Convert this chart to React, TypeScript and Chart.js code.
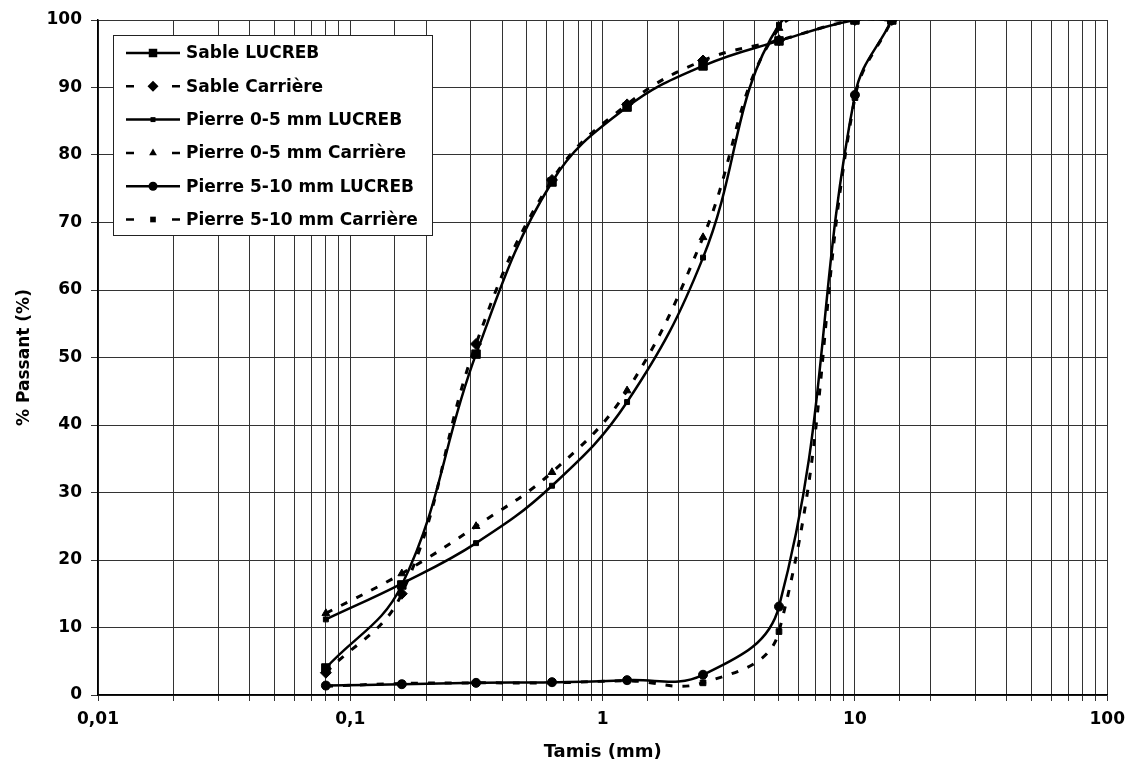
import React, { useEffect, useRef } from 'react';
import { Chart, registerables } from 'chart.js';

Chart.register(...registerables);

// Sieve openings (mm)
const sieves = [0.08, 0.16, 0.315, 0.63, 1.25, 2.5, 5, 10, 14];

// % passing per series
const sableLucreb = [4, 16.3, 50.5, 76, 87.1, 93.2, 96.9, 100, 100];
const sableCarriere = [3.3, 15, 52, 76.3, 87.5, 94, 97, 100, 100];
const pierre05Lucreb = [11.2, 16.5, 22.5, 31, 43.4, 64.8, 99.3, 100];
const pierre05Carriere = [12.1, 18, 25, 33, 45.1, 67.8, 98.8, 100];
const pierre510Lucreb = [1.4, 1.6, 1.8, 1.9, 2.2, 3.0, 13.1, 88.9, 100];
const pierre510Carriere = [1.3, 1.7, 1.8, 1.8, 2.1, 1.8, 9.4, 88.5, 100];

const seriesNames = [
  'Sable LUCREB',
  'Sable Carrière',
  'Pierre 0-5 mm LUCREB',
  'Pierre 0-5 mm Carrière',
  'Pierre 5-10 mm LUCREB',
  'Pierre 5-10 mm Carrière',
];

const xTickLabels: Record<string, string> = {
  '-2': '0,01',
  '-1': '0,1',
  '0': '1',
  '1': '10',
  '2': '100',
};

const xTitle = 'Tamis (mm)';
const yTitle = '% Passant (%)';

const FONT = '"DejaVu Sans", "Liberation Sans", Arial, sans-serif';

type SeriesStyle = { dashed: boolean; point: string; radius: number };
const styles: SeriesStyle[] = [
  { dashed: false, point: 'rect', radius: 6 },
  { dashed: true, point: 'rectRot', radius: 5.5 },
  { dashed: false, point: 'rect', radius: 3.5 },
  { dashed: true, point: 'triangle', radius: 4.5 },
  { dashed: false, point: 'circle', radius: 4.5 },
  { dashed: true, point: 'rect', radius: 4 },
];

function drawMarker(ctx: CanvasRenderingContext2D, style: string, x: number, y: number, r: number) {
  ctx.beginPath();
  if (style === 'rect') {
    const s = r * Math.SQRT1_2;
    ctx.rect(x - s, y - s, 2 * s, 2 * s);
  } else if (style === 'rectRot') {
    ctx.moveTo(x - r, y);
    ctx.lineTo(x, y - r);
    ctx.lineTo(x + r, y);
    ctx.lineTo(x, y + r);
    ctx.closePath();
  } else if (style === 'triangle') {
    let a = 0;
    ctx.moveTo(x + Math.sin(a) * r, y - Math.cos(a) * r);
    a += (2 * Math.PI) / 3;
    ctx.lineTo(x + Math.sin(a) * r, y - Math.cos(a) * r);
    a += (2 * Math.PI) / 3;
    ctx.lineTo(x + Math.sin(a) * r, y - Math.cos(a) * r);
    ctx.closePath();
  } else {
    ctx.arc(x, y, r, 0, Math.PI * 2);
  }
  ctx.fill();
}

const overlayPlugin = {
  id: 'overlay',
  afterDraw(chart: any) {
    const ctx: CanvasRenderingContext2D = chart.ctx;
    const ca = chart.chartArea;
    ctx.save();
    ctx.fillStyle = '#000';
    ctx.textAlign = 'center';
    ctx.textBaseline = 'middle';
    ctx.font = `bold 18px ${FONT}`;
    ctx.fillText(xTitle, (ca.left + ca.right) / 2, 752);
    ctx.save();
    ctx.font = `bold 17px ${FONT}`;
    ctx.translate(25, (ca.top + ca.bottom) / 2);
    ctx.rotate(-Math.PI / 2);
    ctx.fillText(yTitle, 0, 0);
    ctx.restore();

    // Legend box
    const lx = 113.5, ly = 35.5, lw = 319, lh = 200;
    ctx.fillStyle = '#fff';
    ctx.fillRect(lx, ly, lw, lh);
    ctx.strokeStyle = '#222';
    ctx.lineWidth = 1;
    ctx.setLineDash([]);
    ctx.strokeRect(lx, ly, lw, lh);

    ctx.font = `bold 17px ${FONT}`;
    ctx.textAlign = 'left';
    ctx.textBaseline = 'middle';
    seriesNames.forEach((name, i) => {
      const y = 53 + i * 33.3;
      const st = styles[i];
      ctx.strokeStyle = '#000';
      ctx.fillStyle = '#000';
      ctx.lineWidth = 2.5;
      ctx.setLineDash([]);
      ctx.beginPath();
      if (st.dashed) {
        ctx.moveTo(126, y);
        ctx.lineTo(134, y);
        ctx.moveTo(172, y);
        ctx.lineTo(180, y);
      } else {
        ctx.moveTo(126, y);
        ctx.lineTo(180, y);
      }
      ctx.stroke();
      drawMarker(ctx, st.point, 153, y, st.radius);
      ctx.fillText(name, 186, y + 1);
    });
    ctx.restore();
  },
};

const allSeries = [
  sableLucreb,
  sableCarriere,
  pierre05Lucreb,
  pierre05Carriere,
  pierre510Lucreb,
  pierre510Carriere,
];

export default function App() {
  const ref = useRef<HTMLCanvasElement | null>(null);

  useEffect(() => {
    if (!ref.current) return;
    const datasets = allSeries.map((vals, i) => ({
      label: seriesNames[i],
      data: vals.map((v, j) => ({ x: sieves[j], y: v })),
      borderColor: '#000',
      backgroundColor: '#000',
      pointBackgroundColor: '#000',
      pointBorderColor: '#000',
      pointBorderWidth: 1,
      borderWidth: styles[i].dashed ? 3 : 2.5,
      borderDash: styles[i].dashed ? [7, 10] : [],
      pointStyle: styles[i].point as any,
      pointRadius: styles[i].radius,
      tension: 0.4,
      fill: false,
    }));

    const chart = new Chart(ref.current, {
      type: 'line',
      data: { datasets },
      plugins: [overlayPlugin],
      options: {
        animation: false,
        responsive: false,
        events: [],
        layout: { padding: { top: 20, right: 24, left: 0, bottom: 0 } },
        elements: { line: { capBezierPoints: false } },
        plugins: {
          legend: { display: false },
          tooltip: { enabled: false },
        },
        scales: {
          x: {
            type: 'logarithmic',
            min: 0.01,
            max: 100,
            afterFit: (s: any) => {
              s.height = 71;
            },
            border: { color: '#000', width: 1.5 },
            grid: { color: '#333', lineWidth: 1, tickLength: 6, drawTicks: true },
            ticks: {
              autoSkip: false,
              maxRotation: 0,
              minRotation: 0,
              padding: 8,
              color: '#000',
              font: { family: FONT, size: 17, weight: 'bold' },
              callback: (value: any) => {
                const l = Math.log10(Number(value));
                const r = Math.round(l);
                if (Math.abs(l - r) < 1e-6) return xTickLabels[String(r)] ?? '';
                return '';
              },
            },
          },
          y: {
            min: 0,
            max: 100,
            afterFit: (s: any) => {
              s.width = 98;
            },
            border: { color: '#000', width: 1.5 },
            grid: { color: '#333', lineWidth: 1, tickLength: 7 },
            ticks: {
              stepSize: 10,
              padding: 9,
              color: '#000',
              font: { family: FONT, size: 17, weight: 'bold' },
            },
          },
        },
      } as any,
    });
    return () => chart.destroy();
  }, []);

  return (
    <div style={{ position: 'fixed', left: 0, top: 0, width: 1133, height: 766, background: '#fff' }}>
      <canvas ref={ref} width={1133} height={766} style={{ display: 'block' }} />
    </div>
  );
}
